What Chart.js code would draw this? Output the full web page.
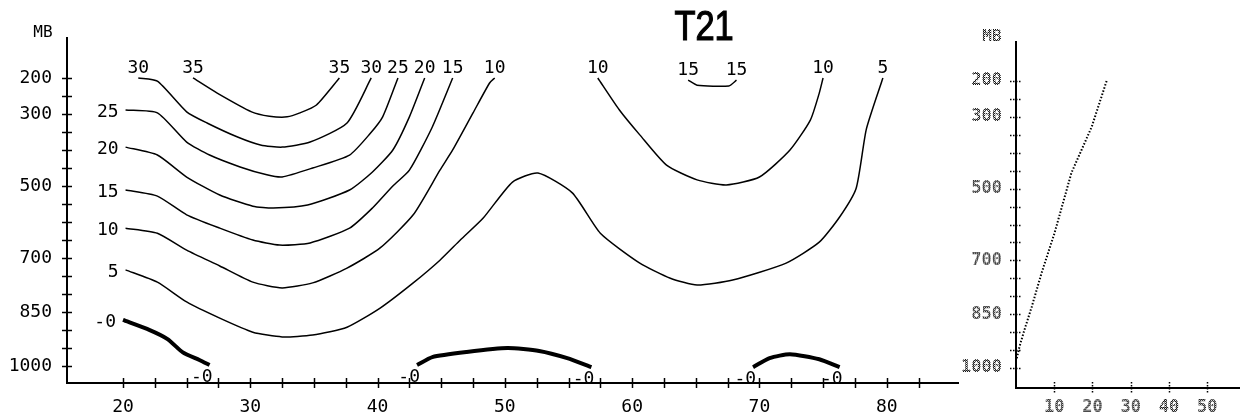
<!DOCTYPE html>
<html>
<head>
<meta charset="utf-8">
<title>T21</title>
<script src="https://cdn.jsdelivr.net/npm/chart.js@4.4.0/dist/chart.umd.min.js"></script>
<style>
  body { margin: 0; background: #fff; }
  #wrap { position: relative; width: 1240px; height: 415px; overflow: hidden; }
  #wrap canvas { position: absolute; top: 0; }
</style>
</head>
<body>
<div id="wrap">
  <canvas id="cross" width="1000" height="415" style="left:0"></canvas>
  <canvas id="profile" width="300" height="415" style="left:940px"></canvas>
</div>
<script>
// Pressure levels (mb) that get a label, and labelled x values
const levelLabels = [200, 300, 500, 700, 850, 1000];
const crossLabels = [20, 30, 40, 50, 60, 70, 80];
const profileLabels = [10, 20, 30, 40, 50];

// Isolines of the cross section, points are [x, mb]
const iso35 = [[25.5,200],[27.4,242],[30.1,294],[31.5,306],[32.9,308],[33.9,297],[35.2,275],[37.0,200]];
const iso30 = [[21.2,200],[22.7,209],[25.0,294],[26.6,325],[29.0,364],[30.8,386],[32.5,392],[34.7,378],[37.6,325],[39.5,200]];
const iso25 = [[20.2,289],[22.7,297],[25.0,378],[26.8,414],[29.2,447],[31.3,469],[32.5,475],[34.9,450],[37.8,414],[39.4,355],[40.4,308],[41.6,200]];
const iso20 = [[20.2,392],[22.7,414],[25.0,475],[27.6,525],[30.2,556],[31.8,561],[34.5,553],[37.8,511],[39.6,461],[41.2,400],[42.5,308],[43.7,200]];
const iso15 = [[20.2,511],[22.7,528],[25.0,580],[27.6,617],[30.2,650],[32.3,664],[34.7,658],[37.8,617],[39.6,561],[41.2,500],[42.5,456],[44.3,336],[45.9,200]];
const iso10 = [[20.2,617],[22.7,631],[25.0,678],[27.6,722],[30.2,767],[32.5,783],[34.9,769],[37.6,728],[40.2,672],[42.8,580],[44.9,456],[45.9,400],[47.5,297],[48.8,214],[49.2,200]];
const iso5 = [[20.2,733],[22.7,767],[25.0,822],[27.6,867],[30.2,906],[32.5,919],[34.9,914],[37.6,892],[40.2,839],[42.8,769],[44.9,706],[46.5,650],[48.3,589],[50.6,489],[52.6,464],[55.3,519],[57.5,631],[60.6,714],[63.0,756],[65.1,775],[67.9,761],[72.1,714],[74.7,656],[76.3,586],[77.6,506],[78.4,342],[79.7,200]];
const iso10east = [[57.3,200],[59.0,289],[60.6,358],[62.7,442],[65.1,483],[67.4,497],[70.0,475],[72.4,400],[74.0,317],[74.7,242],[75.0,200]];
const iso15east = [[64.4,206],[65.1,220],[67.6,222],[68.2,206]];
const zeroWest = [[20.0,872],[22.1,900],[23.5,925],[24.7,962],[26.0,983],[26.8,997]];
const zeroMid = [[43.1,997],[44.3,975],[47.0,961],[50.2,950],[52.7,958],[54.9,978],[56.8,1003]];
const zeroEast = [[69.5,1003],[70.8,978],[72.4,967],[74.7,981],[76.3,1003]];

// Vertical profile on the side panel
const profileMb = [200, 328, 456, 623, 735, 830, 894, 941, 978];
const profileVal = [23.7, 19.8, 14.5, 10.1, 6.7, 4.1, 2.2, 0.9, 0.1];

const isolines = [
  ['35', iso35], ['30', iso30], ['25', iso25], ['20', iso20], ['15', iso15],
  ['10', iso10], ['5', iso5], ['10', iso10east], ['15', iso15east],
  ['-0', zeroWest], ['-0', zeroMid], ['-0', zeroEast]
];

const monoFont = { family: 'DejaVu Sans Mono', size: 18 };
const sideFont = { family: 'DejaVu Sans Mono', size: 17, weight: 'bold' };
const fontStr = f => (f.weight || '') + ' ' + f.size + 'px "' + f.family + '"';

// tick positions: every 50 mb, every 2.5 along x
const mbTicks = [];
for (let p = 200; p <= 1000; p += 50) mbTicks.push(p);
const xTicks = [];
for (let v = 20; v <= 82.5; v += 2.5) xTicks.push(v);

// small dot grid used to give the side panel its dot-matrix look
function dotPattern() {
  const c = document.createElement('canvas');
  c.width = 2; c.height = 2;
  const g = c.getContext('2d');
  g.fillStyle = '#111';
  g.fillRect(0, 0, 1, 1);
  g.fillRect(1, 1, 1, 1);
  g.fillStyle = '#888';
  g.fillRect(1, 0, 1, 1);
  return g.createPattern(c, 'repeat');
}
const dots = dotPattern();

// ticks that cross the axis line on both sides
const crossTicks = {
  id: 'crossTicks',
  afterDraw(chart, args, opts) {
    const ctx = chart.ctx;
    const { x, y } = chart.scales;
    ctx.save();
    ctx.strokeStyle = '#000';
    ctx.lineWidth = opts.width;
    ctx.setLineDash(opts.dash || []);
    y.ticks.forEach(t => {
      const py = Math.round(y.getPixelForValue(t.value)) + 0.5;
      ctx.beginPath();
      ctx.moveTo(y.right - opts.len, py);
      ctx.lineTo(y.right + opts.len, py);
      ctx.stroke();
    });
    x.ticks.forEach(t => {
      if (t.value === 0) return;
      const px = Math.round(x.getPixelForValue(t.value)) + 0.5;
      ctx.beginPath();
      ctx.moveTo(px, x.top - opts.len);
      ctx.lineTo(px, x.top + opts.len);
      ctx.stroke();
    });
    ctx.restore();
  }
};

// value labels at both ends of each isoline
const isolineLabels = {
  id: 'isolineLabels',
  afterDatasetsDraw(chart, args, opts) {
    if (!opts.show) return;
    const { ctx, scales: { x, y } } = chart;
    ctx.save();
    ctx.font = fontStr(monoFont);
    ctx.fillStyle = '#000';
    ctx.textBaseline = 'middle';
    chart.data.datasets.forEach(ds => {
      const ends = [ds.data[0], ds.data[ds.data.length - 1]];
      ends.forEach(([vx, vp]) => {
        const px = x.getPixelForValue(vx);
        const py = y.getPixelForValue(vp);
        if (vp <= 215) {
          ctx.textAlign = 'center';
          ctx.fillText(ds.label, px, py - 10);
        } else if (vx <= 20.5) {
          ctx.textAlign = 'right';
          ctx.fillText(ds.label, px - 7, py + 2);
        } else {
          ctx.textAlign = 'right';
          ctx.fillText(ds.label, px + 3, py + 12);
        }
      });
    });
    ctx.restore();
  }
};

// "MB" above the pressure axis and the panel title
const captions = {
  id: 'captions',
  afterDraw(chart, args, opts) {
    const { ctx, chartArea } = chart;
    ctx.save();
    ctx.fillStyle = opts.color;
    ctx.textAlign = 'center';
    ctx.textBaseline = 'middle';
    ctx.font = opts.font;
    ctx.fillText('MB', chartArea.left - 24, chartArea.top - 5);
    if (opts.title) {
      ctx.translate(chartArea.left + chartArea.width * 0.715, 28);
      ctx.scale(0.82, 1);
      ctx.fillStyle = '#000';
      ctx.strokeStyle = '#000';
      ctx.lineWidth = 1.2;
      ctx.font = '42px "Liberation Sans"';
      ctx.fillText(opts.title, 0, 0);
      ctx.strokeText(opts.title, 0, 0);
    }
    ctx.restore();
  }
};

Chart.defaults.color = '#000';

new Chart(document.getElementById('cross'), {
  type: 'line',
  data: {
    datasets: isolines.map(([label, pts]) => ({
      label: label,
      data: pts,
      borderColor: '#000',
      borderWidth: label === '-0' ? 4 : 1.5,
      pointRadius: 0,
      tension: 0.2,
      fill: false
    }))
  },
  options: {
    responsive: false,
    animation: false,
    layout: { padding: { top: 38, right: 42, left: 0, bottom: 0 } },
    plugins: {
      legend: { display: false },
      tooltip: { enabled: false },
      crossTicks: { len: 5, width: 1.5 },
      isolineLabels: { show: true },
      captions: { title: 'T21', color: '#000', font: '16px "DejaVu Sans Mono"' }
    },
    scales: {
      x: {
        type: 'linear',
        min: 15.6,
        max: 85.6,
        afterBuildTicks: s => { s.ticks = xTicks.map(v => ({ value: v })); },
        afterFit: s => { s.height = 32; },
        ticks: {
          autoSkip: false,
          maxRotation: 0,
          padding: 6,
          font: monoFont,
          color: '#000',
          callback: v => crossLabels.includes(v) ? String(v) : ''
        },
        grid: { display: false },
        border: { color: '#000', width: 2 }
      },
      y: {
        type: 'linear',
        min: 89,
        max: 1047,
        reverse: true,
        afterBuildTicks: s => { s.ticks = mbTicks.map(v => ({ value: v })); },
        afterFit: s => { s.width = 67; },
        ticks: {
          autoSkip: false,
          padding: 7,
          font: monoFont,
          color: '#000',
          callback: v => levelLabels.includes(v) ? String(v) : ''
        },
        grid: { display: false },
        border: { color: '#000', width: 2 }
      }
    }
  },
  plugins: [crossTicks, isolineLabels, captions]
});

new Chart(document.getElementById('profile'), {
  type: 'line',
  data: {
    datasets: [{
      label: 'profile',
      data: profileMb.map((p, i) => ({ x: profileVal[i], y: p })),
      borderColor: '#000',
      borderWidth: 2,
      borderDash: [1.5, 1.8],
      pointRadius: 0,
      tension: 0,
      fill: false
    }]
  },
  options: {
    responsive: false,
    animation: false,
    layout: { padding: { top: 42, right: 0, left: 0, bottom: 0 } },
    plugins: {
      legend: { display: false },
      tooltip: { enabled: false },
      crossTicks: { len: 6, width: 1.5, dash: [1.5, 1.5] },
      isolineLabels: { show: false },
      captions: { title: null, color: dots, font: 'bold 16px "DejaVu Sans Mono"' }
    },
    scales: {
      x: {
        type: 'linear',
        min: 0,
        max: 58.6,
        afterBuildTicks: s => { s.ticks = profileLabels.map(v => ({ value: v })); },
        afterFit: s => { s.height = 27; },
        ticks: {
          autoSkip: false,
          maxRotation: 0,
          padding: 1,
          font: sideFont,
          color: dots
        },
        grid: { display: false },
        border: { color: '#000', width: 2, dash: [1.5, 1.5] }
      },
      y: {
        type: 'linear',
        min: 91.3,
        max: 1055.7,
        reverse: true,
        afterBuildTicks: s => { s.ticks = mbTicks.map(v => ({ value: v })); },
        afterFit: s => { s.width = 76; },
        ticks: {
          autoSkip: false,
          padding: 6,
          font: sideFont,
          color: dots,
          callback: v => levelLabels.includes(v) ? String(v) : ''
        },
        grid: { display: false },
        border: { color: '#000', width: 2, dash: [1.5, 1.5] }
      }
    }
  },
  plugins: [crossTicks, isolineLabels, captions]
});
</script>
</body>
</html>
